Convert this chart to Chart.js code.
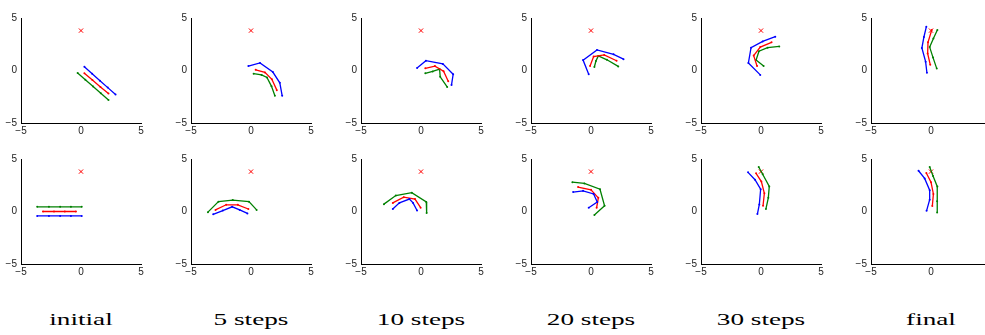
<!DOCTYPE html>
<html>
<head>
<meta charset="utf-8">
<script src="https://cdn.jsdelivr.net/npm/chart.js@4.4.1/dist/chart.umd.min.js"></script>
<style>
  html, body { margin: 0; padding: 0; background: #fff; width: 985px; height: 335px; overflow: hidden; }
  #wrap { position: relative; width: 985px; height: 335px; }
  canvas { position: absolute; }
  .lbl { position: absolute; width: 160px; text-align: center; font-family: "Liberation Serif", "DejaVu Serif", serif; font-size: 17px; line-height: 20px; color: #000; transform: scaleX(1.6); }
</style>
</head>
<body>
<div id="wrap"></div>
<script>
// column captions
const stepLabels = ['initial', '5 steps', '10 steps', '20 steps', '30 steps', 'final'];
const tickValues = [-5, 0, 5];
const target = [0, 3.8];

// top row, one arm per panel ([x, y] joints)
const blueTop = [
  [[0.28,0.36],[0.93,-0.3],[1.58,-0.97],[2.23,-1.63],[2.88,-2.29]],
  [[-0.22,0.42],[0.75,0.72],[1.82,-0.15],[2.4,-1.17],[2.6,-2.41]],
  [[-0.33,0.24],[0.41,0.93],[1.82,0.63],[2.68,-0.36],[2.54,-1.39]],
  [[-0.19,-0.36],[-0.66,0.99],[0.5,1.96],[1.88,1.54],[2.71,1.08]],
  [[-0.06,-0.42],[-1.05,0.72],[-0.83,2.17],[0.14,2.77],[1.19,3.22]],
  [[-0.34,-0.21],[-0.45,0.84],[-0.76,2.14],[-0.59,3.19],[-0.39,4.16]]
];
const redTop = [
  [[0.28,-0.27],[0.95,-0.91],[1.62,-1.56],[2.29,-2.2]],
  [[0.39,0.06],[1.16,-0.18],[1.74,-0.84],[2.15,-1.87]],
  [[0.36,0.21],[1.16,0.42],[1.88,-0.06],[2.27,-1.02]],
  [[-0.08,0.42],[0.22,1.33],[1.1,1.48],[2.13,0.93]],
  [[-0.33,0.42],[-0.61,1.42],[-0.06,2.23],[0.88,2.68]],
  [[-0.06,0.54],[-0.28,1.63],[-0.25,2.68],[0.06,3.86]]
];
const greenTop = [
  [[-0.28,-0.24],[0.36,-0.88],[1.01,-1.52],[1.65,-2.16],[2.29,-2.8]],
  [[0.22,-0.3],[0.88,-0.42],[1.33,-0.66],[1.71,-1.51],[1.99,-2.41]],
  [[0.36,-0.27],[0.97,-0.09],[1.55,0.12],[1.6,-0.6],[2.18,-1.57]],
  [[0.28,0.33],[0.41,0.9],[0.61,1.39],[1.33,1.02],[2.27,0.39]],
  [[0.22,0.42],[-0.41,0.99],[-0.17,1.84],[0.55,2.17],[1.52,2.29]],
  [[0.48,0.18],[0.17,1.23],[-0.11,2.23],[0.2,3.04],[0.53,3.86]]
];

// bottom row
const blueBottom = [
  [[-3.65,-0.42],[-2.67,-0.42],[-1.74,-0.42],[-0.84,-0.42],[0.06,-0.42]],
  [[-3.15,-0.27],[-2.35,0.09],[-1.57,0.45],[-0.94,0.15],[-0.3,-0.18]],
  [[-2.35,0.24],[-1.8,0.82],[-0.97,1.18],[-0.66,0.82],[-0.33,0.09]],
  [[-1.49,1.85],[-0.66,1.97],[0.22,1.67],[0.52,0.91],[-0.19,0.36]],
  [[-0.3,-0.24],[-0.14,0.67],[-0.03,2.12],[-0.5,3.03],[-1.08,3.73]],
  [[-0.37,0.06],[-0.11,1.12],[-0.11,2.03],[-0.53,3.15],[-1.04,3.88]]
];
const redBottom = [
  [[-3.17,0],[-2.25,0],[-1.35,0],[-0.42,0]],
  [[-2.96,0.15],[-2.07,0.64],[-1.1,0.64],[-0.22,0.24]],
  [[-2.35,0.82],[-1.44,1.36],[-0.5,1.18],[-0.03,0.36]],
  [[-1.08,2.33],[0,2.06],[0.61,1.3],[0.47,0.36]],
  [[0.17,0.55],[0.28,1.73],[0.03,2.85],[-0.41,3.64]],
  [[0.11,0.52],[0.2,1.67],[0,2.79],[-0.39,3.67]]
];
const greenBottom = [
  [[-3.65,0.45],[-2.67,0.45],[-1.74,0.45],[-0.84,0.45],[0.06,0.45]],
  [[-3.59,-0.06],[-2.71,0.94],[-1.52,1.09],[-0.17,0.94],[0.47,0.15]],
  [[-3.09,0.7],[-2.1,1.52],[-0.77,1.79],[0.44,0.91],[0.47,-0.15]],
  [[-1.55,2.79],[-0.55,2.67],[0.75,2.12],[1.13,0.55],[0.28,-0.33]],
  [[0.41,0.24],[0.61,1.3],[0.69,2.39],[0.14,3.55],[-0.19,4.24]],
  [[0.51,-0.09],[0.51,0.97],[0.53,2.39],[0.17,3.39],[-0.11,4.24]]
];

const wrap = document.getElementById('wrap');

function arm(points, color) {
  return {
    data: points.map(p => ({ x: p[0], y: p[1] })),
    showLine: true,
    borderColor: color,
    backgroundColor: color,
    borderWidth: 1.3,
    pointRadius: 1,
    pointBorderWidth: 0,
    pointHoverRadius: 1
  };
}

function fmt(v) {
  return v < 0 ? '\u2212' + Math.abs(v) : String(v);
}

const tickFont = { family: 'Liberation Sans', size: 10 };

function makePanel(col, row, blue, red, green) {
  const c = document.createElement('canvas');
  c.width = 160;
  c.height = 140;
  c.style.left = (1 + 170 * col) + 'px';
  c.style.top = (8 + 141 * row) + 'px';
  wrap.appendChild(c);

  new Chart(c, {
    type: 'scatter',
    data: {
      datasets: [
        arm(blue, '#0000ff'),
        arm(red, '#ff0000'),
        arm(green, '#008000'),
        {
          data: [{ x: target[0], y: target[1] }],
          pointStyle: 'crossRot',
          pointRadius: 3,
          borderColor: '#ff0000',
          borderWidth: 1,
          showLine: false
        }
      ]
    },
    options: {
      responsive: false,
      animation: false,
      events: [],
      layout: { padding: { top: 5, right: 20, left: 0, bottom: 0 } },
      plugins: { legend: { display: false }, tooltip: { enabled: false } },
      scales: {
        x: {
          type: 'linear', min: -5, max: 5,
          afterBuildTicks: s => { s.ticks = tickValues.map(v => ({ value: v })); },
          afterFit: s => { s.height = 25; },
          grid: { display: false, drawTicks: false, tickLength: 0 },
          border: { display: true, color: '#000', width: 1 },
          ticks: { callback: fmt, padding: 2, maxRotation: 0, autoSkip: false, color: '#222', font: tickFont }
        },
        y: {
          type: 'linear', min: -5, max: 5,
          afterBuildTicks: s => { s.ticks = tickValues.map(v => ({ value: v })); },
          afterFit: s => { s.width = 20; },
          grid: { display: false, drawTicks: false, tickLength: 0 },
          border: { display: true, color: '#000', width: 1 },
          ticks: { callback: fmt, padding: 4, autoSkip: false, color: '#222', font: tickFont }
        }
      }
    }
  });
}

for (let i = 0; i < 6; i++) {
  makePanel(i, 0, blueTop[i], redTop[i], greenTop[i]);
  makePanel(i, 1, blueBottom[i], redBottom[i], greenBottom[i]);
  const d = document.createElement('div');
  d.className = 'lbl';
  d.textContent = stepLabels[i];
  d.style.left = (1 + 170 * i) + 'px';
  d.style.top = '310px';
  wrap.appendChild(d);
}
</script>
</body>
</html>
